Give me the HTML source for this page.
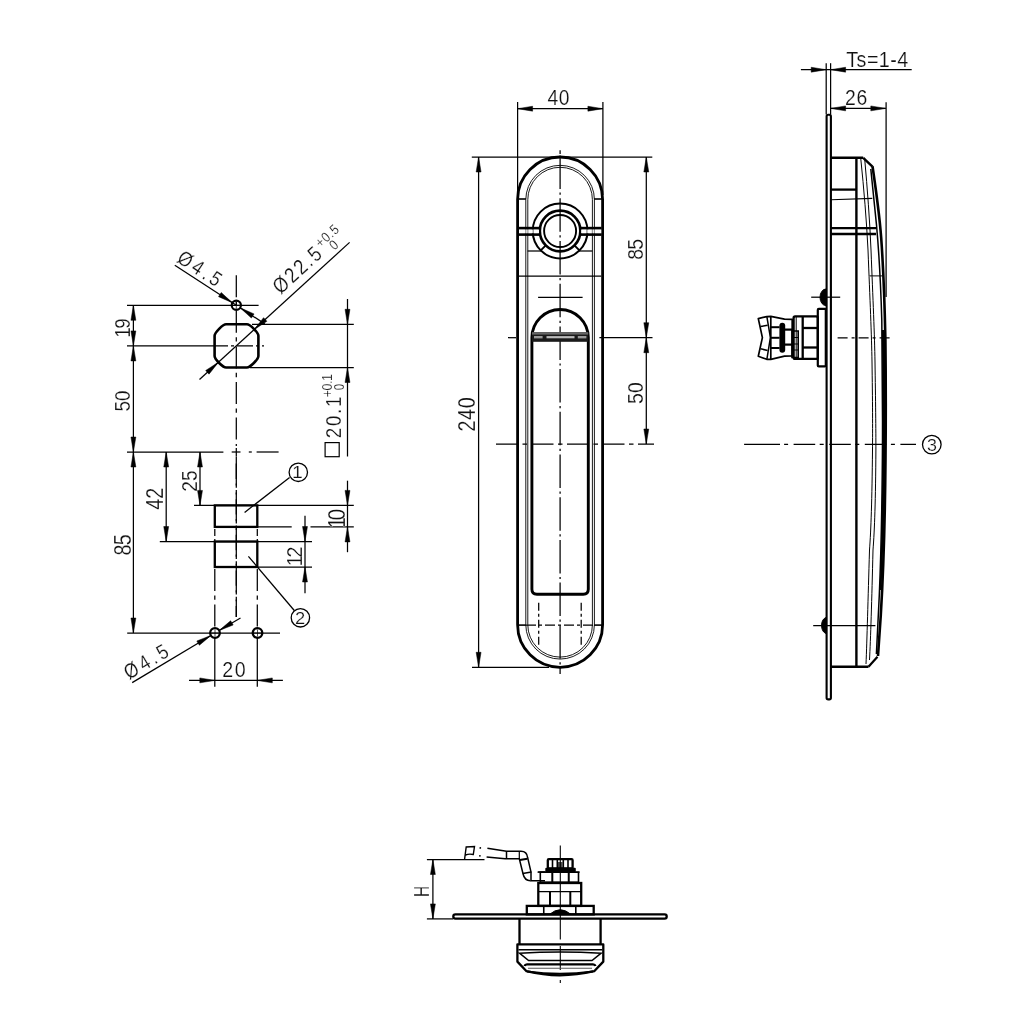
<!DOCTYPE html>
<html><head><meta charset="utf-8"><style>
html,body{margin:0;padding:0;background:#fff;width:1024px;height:1024px;overflow:hidden}
svg{display:block;will-change:transform}
text{font-family:"Liberation Sans",sans-serif;fill:#111}
</style></head><body>
<svg width="1024" height="1024" viewBox="0 0 1024 1024" stroke-linecap="butt">
<rect width="1024" height="1024" fill="#fff"/>
<line x1="236.3" y1="275.2" x2="236.3" y2="446" stroke="#000" stroke-width="1.25" stroke-dasharray="22 4.4 4.4 4.8"/>
<line x1="236.3" y1="457" x2="236.3" y2="617" stroke="#000" stroke-width="1.25" stroke-dasharray="22 4.4 4.4 4.8"/>
<line x1="127" y1="305.3" x2="258.6" y2="305.3" stroke="#000" stroke-width="1.25"/>
<line x1="127" y1="345.9" x2="212" y2="345.9" stroke="#000" stroke-width="1.25"/>
<line x1="212" y1="345.9" x2="264" y2="345.9" stroke="#000" stroke-width="1.25" stroke-dasharray="16 3 3 3"/>
<path d="M226.1 324.3H246.89999999999998C250.11999999999998 324.3 258.4 332.58 258.4 335.8V356.0C258.4 359.22 250.11999999999998 367.5 246.89999999999998 367.5H226.1C222.88 367.5 214.6 359.22 214.6 356.0V335.8C214.6 332.58 222.88 324.3 226.1 324.3Z" stroke="#000" stroke-width="2.6" fill="none" />
<circle cx="236.3" cy="305.3" r="4.6" stroke="#000" stroke-width="2.2" fill="none"/>
<line x1="232.8" y1="305.3" x2="239.8" y2="305.3" stroke="#000" stroke-width="0.7"/>
<line x1="236.3" y1="301.8" x2="236.3" y2="308.8" stroke="#000" stroke-width="0.7"/>
<line x1="133.4" y1="305.3" x2="133.4" y2="452" stroke="#000" stroke-width="1.25"/>
<path d="M133.4 305.3L135.85 320.3L130.95 320.3Z" fill="#000" stroke="#000" stroke-width="0.5"/>
<path d="M133.4 345.9L130.95 330.9L135.85 330.9Z" fill="#000" stroke="#000" stroke-width="0.5"/>
<path d="M133.4 345.9L135.85 360.9L130.95 360.9Z" fill="#000" stroke="#000" stroke-width="0.5"/>
<path d="M133.4 452L130.95 437L135.85 437Z" fill="#000" stroke="#000" stroke-width="0.5"/>
<text transform="translate(129.7 336.3) rotate(-90) translate(-1.5 0) scale(0.86 1)" font-size="21.86" letter-spacing="-1.65" stroke="#fff" stroke-width="0.2">19</text>
<text transform="translate(129.7 410.7) rotate(-90) translate(-0.75 0) scale(0.86 1)" font-size="21.86" letter-spacing="-0.07" stroke="#fff" stroke-width="0.2">50</text>
<line x1="252" y1="324.3" x2="353.8" y2="324.3" stroke="#000" stroke-width="1.25"/>
<line x1="250" y1="367.5" x2="353.8" y2="367.5" stroke="#000" stroke-width="1.25"/>
<line x1="347.5" y1="299" x2="347.5" y2="456.5" stroke="#000" stroke-width="1.25"/>
<path d="M347.5 324.3L345.05 309.3L349.95 309.3Z" fill="#000" stroke="#000" stroke-width="0.5"/>
<path d="M347.5 367.5L349.95 382.5L345.05 382.5Z" fill="#000" stroke="#000" stroke-width="0.5"/>
<rect x="325.1" y="442.6" width="14.1" height="14.1" fill="none" stroke="#000" stroke-width="1.2"/>
<text transform="translate(340.9 437.3) rotate(-90) translate(-0.93 0) scale(0.86 1)" font-size="21.71" letter-spacing="2.04" stroke="#fff" stroke-width="0.2">20.1</text>
<text transform="translate(331.6 396.7) rotate(-90) translate(-0.62 0) scale(0.86 1)" font-size="14.43" letter-spacing="-0.51" stroke="#fff" stroke-width="0.2">+0.1</text>
<text transform="translate(343.5 389.7) rotate(-90) translate(-0.46 0) scale(0.83 1)" font-size="13.86" letter-spacing="0" stroke="#fff" stroke-width="0.2">0</text>
<line x1="174.8" y1="265.2" x2="236.3" y2="305.3" stroke="#000" stroke-width="1.25"/>
<path d="M232.45 302.79L218.54 296.65L221.22 292.54Z" fill="#000" stroke="#000" stroke-width="0.5"/>
<path d="M240.15 307.81L254.06 313.95L251.38 318.06Z" fill="#000" stroke="#000" stroke-width="0.5"/>
<line x1="240.15" y1="307.81" x2="264.78" y2="323.87" stroke="#000" stroke-width="1.25"/>
<text transform="translate(174.8 265.2) rotate(33.11) translate(-1.31 -3.8) scale(0.86 1)" font-size="20.71" letter-spacing="3.63" stroke="#fff" stroke-width="0.2">Ø4.5</text>
<line x1="199.5" y1="379.5" x2="349.6" y2="242.4" stroke="#000" stroke-width="1.25"/>
<path d="M218.43 362.22L209.01 374.15L205.7 370.53Z" fill="#000" stroke="#000" stroke-width="0.5"/>
<path d="M254.17 329.58L263.59 317.65L266.9 321.27Z" fill="#000" stroke="#000" stroke-width="0.5"/>
<text transform="translate(275.8 309.6) rotate(-42.41) translate(13.26 -7.6) scale(0.86 1)" font-size="21.43" letter-spacing="2.28" stroke="#fff" stroke-width="0.2">Ø22.5</text>
<text transform="translate(275.8 309.6) rotate(-42.41) translate(74.4 -15) scale(0.86 1)" font-size="14" letter-spacing="0.92" stroke="#fff" stroke-width="0.2">+0.5</text>
<text transform="translate(275.8 309.6) rotate(-42.41) translate(83.02 -4) scale(0.86 1)" font-size="14" letter-spacing="0" stroke="#fff" stroke-width="0.2">0</text>
<line x1="127" y1="452" x2="223.4" y2="452" stroke="#000" stroke-width="1.25"/>
<line x1="231.7" y1="452" x2="240.5" y2="452" stroke="#000" stroke-width="1.25"/>
<line x1="248.8" y1="452" x2="251.8" y2="452" stroke="#000" stroke-width="1.25"/>
<line x1="256.6" y1="452" x2="278.6" y2="452" stroke="#000" stroke-width="1.25"/>
<line x1="236.3" y1="447.9" x2="236.3" y2="456.7" stroke="#000" stroke-width="1.25"/>
<line x1="133.4" y1="452" x2="133.4" y2="633" stroke="#000" stroke-width="1.25"/>
<path d="M133.4 452L135.85 467L130.95 467Z" fill="#000" stroke="#000" stroke-width="0.5"/>
<path d="M133.4 633L130.95 618L135.85 618Z" fill="#000" stroke="#000" stroke-width="0.5"/>
<text transform="translate(130.5 554.7) rotate(-90) translate(-0.79 0) scale(0.86 1)" font-size="23" letter-spacing="-1.02" stroke="#fff" stroke-width="0.2">85</text>
<line x1="159.8" y1="541.5" x2="312" y2="541.5" stroke="#000" stroke-width="1.25"/>
<line x1="166.2" y1="452" x2="166.2" y2="541.5" stroke="#000" stroke-width="1.25"/>
<path d="M166.2 452L168.65 467L163.75 467Z" fill="#000" stroke="#000" stroke-width="0.5"/>
<path d="M166.2 541.5L163.75 526.5L168.65 526.5Z" fill="#000" stroke="#000" stroke-width="0.5"/>
<text transform="translate(163.2 509.3) rotate(-90) translate(-0.4 0) scale(0.86 1)" font-size="23" letter-spacing="-0.08" stroke="#fff" stroke-width="0.2">42</text>
<line x1="194" y1="505.4" x2="353.8" y2="505.4" stroke="#000" stroke-width="1.25"/>
<line x1="200" y1="452" x2="200" y2="505.4" stroke="#000" stroke-width="1.25"/>
<path d="M200 452L202.45 467L197.55 467Z" fill="#000" stroke="#000" stroke-width="0.5"/>
<path d="M200 505.4L197.55 490.4L202.45 490.4Z" fill="#000" stroke="#000" stroke-width="0.5"/>
<text transform="translate(196.9 490.8) rotate(-90) translate(-0.96 0) scale(0.86 1)" font-size="22.29" letter-spacing="0.06" stroke="#fff" stroke-width="0.2">25</text>
<rect x="214.8" y="505.4" width="42.5" height="21.5" fill="none" stroke="#000" stroke-width="2.3"/>
<rect x="214.8" y="541.5" width="42.5" height="25.5" fill="none" stroke="#000" stroke-width="2.3"/>
<line x1="257" y1="526.9" x2="291.7" y2="526.9" stroke="#000" stroke-width="1.25"/>
<line x1="310.5" y1="526.9" x2="353.8" y2="526.9" stroke="#000" stroke-width="1.25"/>
<line x1="257" y1="567" x2="312" y2="567" stroke="#000" stroke-width="1.25"/>
<line x1="347.5" y1="480.7" x2="347.5" y2="552.2" stroke="#000" stroke-width="1.25"/>
<path d="M347.5 505.4L345.05 490.4L349.95 490.4Z" fill="#000" stroke="#000" stroke-width="0.5"/>
<path d="M347.5 526.9L349.95 541.9L345.05 541.9Z" fill="#000" stroke="#000" stroke-width="0.5"/>
<text transform="translate(344.5 527) rotate(-90) translate(-1.62 0) scale(0.86 1)" font-size="23.57" letter-spacing="-3.34" stroke="#fff" stroke-width="0.2">10</text>
<line x1="305" y1="515.8" x2="305" y2="593.2" stroke="#000" stroke-width="1.25"/>
<path d="M305 541.5L302.55 526.5L307.45 526.5Z" fill="#000" stroke="#000" stroke-width="0.5"/>
<path d="M305 567L307.45 582L302.55 582Z" fill="#000" stroke="#000" stroke-width="0.5"/>
<text transform="translate(301.9 564.8) rotate(-90) translate(-1.57 0) scale(0.86 1)" font-size="22.86" letter-spacing="-2.52" stroke="#fff" stroke-width="0.2">12</text>
<line x1="214.8" y1="529" x2="214.8" y2="541.5" stroke="#000" stroke-width="1.25" stroke-dasharray="7 3 3 3"/>
<line x1="257.3" y1="529" x2="257.3" y2="541.5" stroke="#000" stroke-width="1.25" stroke-dasharray="7 3 3 3"/>
<line x1="214.8" y1="569" x2="214.8" y2="627" stroke="#000" stroke-width="1.25" stroke-dasharray="22 4.4 4.4 4.8"/>
<line x1="257.3" y1="569" x2="257.3" y2="627" stroke="#000" stroke-width="1.25" stroke-dasharray="22 4.4 4.4 4.8"/>
<line x1="236.3" y1="463.6" x2="236.3" y2="617" stroke="#000" stroke-width="1.25" stroke-dasharray="22 4.4 4.4 4.8"/>
<line x1="127.2" y1="633" x2="280" y2="633" stroke="#000" stroke-width="1.25"/>
<circle cx="215" cy="633" r="4.8" stroke="#000" stroke-width="2.3" fill="none"/>
<circle cx="257.5" cy="633" r="4.8" stroke="#000" stroke-width="2.3" fill="none"/>
<line x1="211.5" y1="633" x2="218.5" y2="633" stroke="#000" stroke-width="0.7"/>
<line x1="215" y1="629.5" x2="215" y2="636.5" stroke="#000" stroke-width="0.7"/>
<line x1="254" y1="633" x2="261" y2="633" stroke="#000" stroke-width="0.7"/>
<line x1="257.5" y1="629.5" x2="257.5" y2="636.5" stroke="#000" stroke-width="0.7"/>
<line x1="214.8" y1="638" x2="214.8" y2="686.7" stroke="#000" stroke-width="1.25"/>
<line x1="257.3" y1="638" x2="257.3" y2="686.7" stroke="#000" stroke-width="1.25"/>
<line x1="189" y1="680.4" x2="282.9" y2="680.4" stroke="#000" stroke-width="1.25"/>
<path d="M214.8 680.4L199.8 682.85L199.8 677.95Z" fill="#000" stroke="#000" stroke-width="0.5"/>
<path d="M257.3 680.4L272.3 677.95L272.3 682.85Z" fill="#000" stroke="#000" stroke-width="0.5"/>
<text transform="translate(223.3 677) rotate(0) translate(-0.98 0) scale(0.86 1)" font-size="22.86" letter-spacing="1.69" stroke="#fff" stroke-width="0.2">20</text>
<line x1="132.2" y1="682.6" x2="210.97" y2="635.42" stroke="#000" stroke-width="1.25"/>
<path d="M210.97 635.42L199.36 645.23L196.84 641.02Z" fill="#000" stroke="#000" stroke-width="0.5"/>
<path d="M219.03 630.58L230.64 620.77L233.16 624.98Z" fill="#000" stroke="#000" stroke-width="0.5"/>
<line x1="219.03" y1="630.58" x2="240.5" y2="618" stroke="#000" stroke-width="1.25"/>
<text transform="translate(132.2 682.6) rotate(-30.92) translate(-1.31 -3.8) scale(0.86 1)" font-size="20.71" letter-spacing="3.63" stroke="#fff" stroke-width="0.2">Ø4.5</text>
<circle cx="298.3" cy="472.3" r="9.2" stroke="#000" stroke-width="1.3" fill="none"/>
<text transform="translate(293.6 478) rotate(0) translate(-1.56 0) scale(1.17 1)" font-size="16.67" letter-spacing="0" stroke="#fff" stroke-width="0.2">1</text>
<line x1="289.6" y1="477.6" x2="244.6" y2="512.4" stroke="#000" stroke-width="1.25"/>
<circle cx="300.4" cy="617.8" r="9.2" stroke="#000" stroke-width="1.3" fill="none"/>
<text transform="translate(296 623.5) rotate(0) translate(-0.92 0) scale(1.12 1)" font-size="16.43" letter-spacing="0" stroke="#fff" stroke-width="0.2">2</text>
<line x1="294.3" y1="610.5" x2="248.4" y2="556.3" stroke="#000" stroke-width="1.25"/>
<line x1="517.6" y1="102" x2="517.6" y2="195" stroke="#000" stroke-width="1.25"/>
<line x1="602.9" y1="102" x2="602.9" y2="195" stroke="#000" stroke-width="1.25"/>
<line x1="517.6" y1="108.7" x2="602.9" y2="108.7" stroke="#000" stroke-width="1.25"/>
<path d="M517.6 108.7L532.6 106.25L532.6 111.15Z" fill="#000" stroke="#000" stroke-width="0.5"/>
<path d="M602.9 108.7L587.9 111.15L587.9 106.25Z" fill="#000" stroke="#000" stroke-width="0.5"/>
<text transform="translate(547.9 104.8) rotate(0) translate(-0.39 0) scale(0.86 1)" font-size="22.43" letter-spacing="0.64" stroke="#fff" stroke-width="0.2">40</text>
<line x1="471.8" y1="157" x2="652.3" y2="157" stroke="#000" stroke-width="1.25"/>
<line x1="472" y1="667.3" x2="549" y2="667.3" stroke="#000" stroke-width="1.25"/>
<line x1="478.6" y1="157" x2="478.6" y2="667.3" stroke="#000" stroke-width="1.25"/>
<path d="M478.6 157L481.05 172L476.15 172Z" fill="#000" stroke="#000" stroke-width="0.5"/>
<path d="M478.6 667.3L476.15 652.3L481.05 652.3Z" fill="#000" stroke="#000" stroke-width="0.5"/>
<text transform="translate(475 430.5) rotate(-90) translate(-0.99 0) scale(0.86 1)" font-size="23" letter-spacing="0.67" stroke="#fff" stroke-width="0.2">240</text>
<line x1="646.3" y1="157" x2="646.3" y2="444" stroke="#000" stroke-width="1.25"/>
<path d="M646.3 157L648.75 172L643.85 172Z" fill="#000" stroke="#000" stroke-width="0.5"/>
<path d="M646.3 337.7L643.85 322.7L648.75 322.7Z" fill="#000" stroke="#000" stroke-width="0.5"/>
<path d="M646.3 337.7L648.75 352.7L643.85 352.7Z" fill="#000" stroke="#000" stroke-width="0.5"/>
<path d="M646.3 444L643.85 429L648.75 429Z" fill="#000" stroke="#000" stroke-width="0.5"/>
<line x1="599.4" y1="337.7" x2="652.5" y2="337.7" stroke="#000" stroke-width="1.25"/>
<text transform="translate(642.8 259) rotate(-90) translate(-0.78 0) scale(0.86 1)" font-size="22.57" letter-spacing="-0.81" stroke="#fff" stroke-width="0.2">85</text>
<text transform="translate(642.8 403.1) rotate(-90) translate(-0.78 0) scale(0.86 1)" font-size="22.57" letter-spacing="0.24" stroke="#fff" stroke-width="0.2">50</text>
<line x1="496" y1="444.2" x2="654" y2="444.2" stroke="#000" stroke-width="1.25" stroke-dasharray="22 4.5 4.5 4.5"/>
<line x1="508" y1="337.7" x2="516" y2="337.7" stroke="#000" stroke-width="1.25"/>
<path d="M517.6 199.5A42.5 42.5 0 0 1 602.6 199.5V624.8A42.5 42.5 0 0 1 517.6 624.8Z" stroke="#000" stroke-width="2.8" fill="none" />
<path d="M525.8000000000001 199.6A34.3 34.3 0 0 1 594.4 199.6V624.8A34.3 34.3 0 0 1 525.8000000000001 624.8Z" stroke="#000" stroke-width="0.9" fill="none" />
<path d="M527.8000000000001 199.6A32.3 32.3 0 0 1 592.4 199.6V624.8A32.3 32.3 0 0 1 527.8000000000001 624.8Z" stroke="#000" stroke-width="0.9" fill="none" />
<line x1="518" y1="199" x2="526" y2="199" stroke="#000" stroke-width="1.6"/>
<line x1="594" y1="199" x2="602" y2="199" stroke="#000" stroke-width="1.6"/>
<line x1="518" y1="625.1" x2="526" y2="625.1" stroke="#000" stroke-width="1.6"/>
<line x1="594" y1="625.1" x2="602" y2="625.1" stroke="#000" stroke-width="1.6"/>
<line x1="526" y1="625.1" x2="594" y2="625.1" stroke="#000" stroke-width="1.25" stroke-dasharray="10 3 3 3"/>
<circle cx="560.1" cy="231" r="27.4" stroke="#000" stroke-width="2.0" fill="none"/>
<circle cx="560.1" cy="231" r="20.3" stroke="#000" stroke-width="2.7" fill="none"/>
<circle cx="560.1" cy="231" r="16" stroke="#000" stroke-width="1.9" fill="none"/>
<line x1="545.5" y1="245.6" x2="540.5" y2="250.6" stroke="#000" stroke-width="1.9"/>
<line x1="574.7" y1="245.6" x2="579.7" y2="250.6" stroke="#000" stroke-width="1.9"/>
<rect x="519" y="229.4" width="20" height="3.9" fill="#fff"/><rect x="581.2" y="229.4" width="20" height="3.9" fill="#fff"/>
<line x1="525.8" y1="229.4" x2="525.8" y2="233.3" stroke="#777" stroke-width="0.9"/>
<line x1="527.9" y1="229.4" x2="527.9" y2="233.3" stroke="#777" stroke-width="0.9"/>
<line x1="592.3" y1="229.4" x2="592.3" y2="233.3" stroke="#777" stroke-width="0.9"/>
<line x1="594.4" y1="229.4" x2="594.4" y2="233.3" stroke="#777" stroke-width="0.9"/>
<line x1="533.2" y1="229.4" x2="533.2" y2="233.3" stroke="#888" stroke-width="1.2"/>
<line x1="586.9" y1="229.4" x2="586.9" y2="233.3" stroke="#888" stroke-width="1.2"/>
<line x1="518.6" y1="228.1" x2="539.6" y2="228.1" stroke="#000" stroke-width="2.6"/>
<line x1="580.6" y1="228.1" x2="601.6" y2="228.1" stroke="#000" stroke-width="2.6"/>
<line x1="518.6" y1="234.6" x2="539.6" y2="234.6" stroke="#000" stroke-width="2.6"/>
<line x1="580.6" y1="234.6" x2="601.6" y2="234.6" stroke="#000" stroke-width="2.6"/>
<line x1="527.6" y1="251" x2="541.5" y2="251" stroke="#000" stroke-width="1.25"/>
<line x1="578.7" y1="251" x2="592.5" y2="251" stroke="#000" stroke-width="1.25"/>
<line x1="519" y1="276" x2="601.3" y2="276" stroke="#000" stroke-width="1.25"/>
<line x1="538.1" y1="297.3" x2="582.6" y2="297.3" stroke="#000" stroke-width="1.25"/>
<line x1="560.1" y1="150.2" x2="560.1" y2="154" stroke="#000" stroke-width="1.25"/>
<line x1="560.1" y1="155.6" x2="560.1" y2="674" stroke="#000" stroke-width="1.25" stroke-dasharray="33.5 3.5 2.2 3.5"/>
<path d="M531.9 337.6A28.2 28.2 0 0 1 588.3000000000001 337.6V589.2Q588.3000000000001 594.2 583.3000000000001 594.2H536.9Q531.9 594.2 531.9 589.2Z" stroke="#000" stroke-width="2.9" fill="none" />
<rect x="532" y="332.2" width="56.2" height="9.6" fill="#1a1a1a"/>
<rect x="532" y="332.2" width="56.2" height="2.4" fill="#666"/>
<rect x="534" y="336" width="8.6" height="2.4" fill="#999"/>
<rect x="577.8" y="336" width="8.6" height="2.4" fill="#999"/>
<rect x="546.5" y="336.1" width="28" height="2.2" fill="#bbb"/>
<line x1="538.7" y1="602.8" x2="538.7" y2="647.3" stroke="#000" stroke-width="1.25" stroke-dasharray="8 3 3 3"/>
<line x1="581.2" y1="602.8" x2="581.2" y2="647.3" stroke="#000" stroke-width="1.25" stroke-dasharray="8 3 3 3"/>
<line x1="800.9" y1="69.7" x2="911.7" y2="69.7" stroke="#000" stroke-width="1.25"/>
<line x1="826.2" y1="63.2" x2="826.2" y2="114.5" stroke="#000" stroke-width="1.25"/>
<line x1="830.6" y1="63.2" x2="830.6" y2="114.5" stroke="#000" stroke-width="1.25"/>
<path d="M826.2 69.7L811.2 72.15L811.2 67.25Z" fill="#000" stroke="#000" stroke-width="0.5"/>
<path d="M830.6 69.7L845.6 67.25L845.6 72.15Z" fill="#000" stroke="#000" stroke-width="0.5"/>
<text transform="translate(846.7 66.7) rotate(0) translate(-0.39 0) scale(0.86 1)" font-size="22.9" letter-spacing="0.52" stroke="#fff" stroke-width="0.2">Ts=1-4</text>
<line x1="830.6" y1="108.4" x2="885.8" y2="108.4" stroke="#000" stroke-width="1.25"/>
<path d="M830.6 108.4L845.6 105.95L845.6 110.85Z" fill="#000" stroke="#000" stroke-width="0.5"/>
<path d="M885.8 108.4L870.8 110.85L870.8 105.95Z" fill="#000" stroke="#000" stroke-width="0.5"/>
<line x1="886.1" y1="102.2" x2="886.1" y2="297" stroke="#000" stroke-width="1.25"/>
<text transform="translate(846 105) rotate(0) translate(-0.97 0) scale(0.86 1)" font-size="22.57" letter-spacing="0.93" stroke="#fff" stroke-width="0.2">26</text>
<rect x="826.6" y="114.8" width="4.3" height="584.6" rx="1.6" fill="none" stroke="#000" stroke-width="2.1"/>
<line x1="856.4" y1="157" x2="856.4" y2="667.5" stroke="#000" stroke-width="2.4"/>
<line x1="831" y1="157.8" x2="863.2" y2="157.8" stroke="#000" stroke-width="2.4"/>
<line x1="831" y1="666.7" x2="868.5" y2="666.7" stroke="#000" stroke-width="2.4"/>
<path d="M863.2 157.8L872.5 166.6" stroke="#000" stroke-width="2.4" fill="none" />
<path d="M868.5 666.7L877.5 656.8" stroke="#000" stroke-width="2.2" fill="none" />
<path d="M872.5 166.3C876 190 879.3 213 881.2 238C883 263 884.6 300 885.4 340C885.9 380 885.9 420 885.5 460C885 520 883.2 575 880.8 615L878 656" stroke="#000" stroke-width="2.6" fill="none" />
<path d="M870.8 169C872.6 185 874.6 205 876.5 225C878.8 250 880.6 280 881.8 320C882.4 360 882.6 400 882.5 440C882.2 500 881 555 879.3 595L876.4 654" stroke="#000" stroke-width="1.5" fill="none" />
<path d="M881.8 330C882.4 370 882.6 400 882.5 440C882.2 500 881.2 550 879.6 590L881.5 590C883.3 550 884.8 500 885.3 460C885.8 420 885.8 380 885.3 330Z" fill="#000"/>
<path d="M860.7 157.8C864 190 866.5 220 868 250C870 300 871.6 335 872 362C872.6 400 872.7 430 872.5 450C872 500 871 530 869.5 550C868 600 867 640 866 664" stroke="#000" stroke-width="1.0" fill="none" />
<path d="M864.6 157.8C867.5 190 869.7 220 871 250C873 300 874.6 335 875 362C875.6 400 875.9 430 875.9 450C875.6 500 874.6 530 873 550C871.8 600 870.6 640 869.5 660" stroke="#000" stroke-width="1.0" fill="none" />
<line x1="831" y1="189.6" x2="856.4" y2="189.6" stroke="#000" stroke-width="2.3"/>
<line x1="831" y1="199.8" x2="872.3" y2="198.4" stroke="#000" stroke-width="1.1"/>
<line x1="831" y1="228.1" x2="876" y2="228.1" stroke="#000" stroke-width="2.3"/>
<line x1="831" y1="234" x2="876" y2="234" stroke="#000" stroke-width="2.3"/>
<line x1="869.5" y1="275.9" x2="882.2" y2="275.9" stroke="#000" stroke-width="1.0"/>
<line x1="811.2" y1="297.2" x2="840.2" y2="297.2" stroke="#000" stroke-width="1.25"/>
<path d="M826 289A6 8.3 0 0 0 826 305.6Z" stroke="#000" stroke-width="1" fill="#000" />
<line x1="813.2" y1="625.5" x2="875.4" y2="625.5" stroke="#000" stroke-width="1.25"/>
<path d="M826 617.5A6 8.3 0 0 0 826 633.5Z" stroke="#000" stroke-width="1" fill="#000" />
<rect x="817.8" y="308.9" width="8" height="57.5" fill="none" stroke="#000" stroke-width="2.2" rx="1"/>
<rect x="793.6" y="316.4" width="24.2" height="42.5" fill="none" stroke="#000" stroke-width="2.3" rx="1.5"/>
<line x1="802.7" y1="316.4" x2="802.7" y2="358.9" stroke="#000" stroke-width="2.3"/>
<line x1="796.2" y1="316.4" x2="796.2" y2="358.9" stroke="#000" stroke-width="1.0"/>
<line x1="802.7" y1="328" x2="817.8" y2="328" stroke="#000" stroke-width="2.3"/>
<line x1="802.7" y1="347.5" x2="817.8" y2="347.5" stroke="#000" stroke-width="2.3"/>
<path d="M792 331V357.5H798.2V331Z" stroke="#000" stroke-width="1.6" fill="none" />
<line x1="792" y1="337.5" x2="798" y2="337.5" stroke="#000" stroke-width="1.0"/>
<line x1="792" y1="344" x2="798" y2="344" stroke="#000" stroke-width="1.0"/>
<line x1="792" y1="350" x2="798" y2="350" stroke="#000" stroke-width="1.0"/>
<path d="M758.3 318.6L766.7 316.6L770.8 316.3L784.5 319.1L792.2 319.4V356L784.5 356.1L770.8 359.3L766.7 359.3L758.3 356.3L762.4 337.6Z" stroke="#000" stroke-width="1.7" fill="none" stroke-linejoin="round"/>
<path d="M766.9 316.8L770.4 337.6L766.9 359.1" stroke="#000" stroke-width="1.5" fill="none" />
<line x1="770.8" y1="316.3" x2="770.8" y2="359.3" stroke="#000" stroke-width="1.7"/>
<line x1="760.5" y1="326.6" x2="767.6" y2="325.2" stroke="#000" stroke-width="1.5"/>
<line x1="760.5" y1="348.8" x2="767.6" y2="350.4" stroke="#000" stroke-width="1.5"/>
<line x1="770.8" y1="327.2" x2="779.6" y2="327.2" stroke="#000" stroke-width="2.0"/>
<line x1="770.8" y1="337.8" x2="779.6" y2="337.8" stroke="#000" stroke-width="2.0"/>
<line x1="770.8" y1="348" x2="779.6" y2="348" stroke="#000" stroke-width="2.0"/>
<line x1="785" y1="329.6" x2="792.2" y2="329.6" stroke="#000" stroke-width="2.2"/>
<line x1="785" y1="344.6" x2="792.2" y2="344.6" stroke="#000" stroke-width="2.2"/>
<rect x="779.4" y="322.7" width="5.8" height="30" rx="2.9" fill="#000"/>
<line x1="837.6" y1="337.8" x2="892" y2="337.8" stroke="#000" stroke-width="1.25" stroke-dasharray="10 4 3 4"/>
<line x1="744.1" y1="444.4" x2="780" y2="444.4" stroke="#000" stroke-width="1.25"/>
<line x1="784.1" y1="444.4" x2="916" y2="444.4" stroke="#000" stroke-width="1.25" stroke-dasharray="4 5.5 21.6 4.5"/>
<circle cx="931.8" cy="444.6" r="9.3" stroke="#000" stroke-width="1.3" fill="none"/>
<text transform="translate(927.6 450.5) rotate(0) translate(-0.71 0) scale(1.09 1)" font-size="16.43" letter-spacing="0" stroke="#fff" stroke-width="0.2">3</text>
<rect x="453.3" y="914.4" width="213.4" height="4.3" rx="2.1" fill="none" stroke="#000" stroke-width="2.3"/>
<line x1="426.9" y1="859.5" x2="484.5" y2="859.5" stroke="#000" stroke-width="1.25"/>
<line x1="426.9" y1="918.9" x2="453" y2="918.9" stroke="#000" stroke-width="1.25"/>
<line x1="432.9" y1="859.5" x2="432.9" y2="918.9" stroke="#000" stroke-width="1.25"/>
<path d="M432.9 859.5L435.35 874.5L430.45 874.5Z" fill="#000" stroke="#000" stroke-width="0.5"/>
<path d="M432.9 918.9L430.45 903.9L435.35 903.9Z" fill="#000" stroke="#000" stroke-width="0.5"/>
<text transform="translate(429.2 895.7) rotate(-90) translate(-1.23 0) scale(0.7 1)" font-size="22.03" letter-spacing="0" stroke="#fff" stroke-width="0.2">H</text>
<line x1="560.3" y1="845.5" x2="560.3" y2="939.5" stroke="#000" stroke-width="1.1"/>
<line x1="560.3" y1="946" x2="560.3" y2="970" stroke="#000" stroke-width="1.1"/>
<line x1="560.3" y1="980" x2="560.3" y2="983" stroke="#000" stroke-width="1.1"/>
<rect x="526.8" y="905.9" width="66.9" height="8.5" fill="none" stroke="#000" stroke-width="2.3"/>
<line x1="543.75" y1="905.9" x2="543.75" y2="914.4" stroke="#000" stroke-width="1.6"/>
<line x1="575.8" y1="905.9" x2="575.8" y2="914.4" stroke="#000" stroke-width="1.6"/>
<path d="M549.5 914.4Q560.3 905 571 914.4Z" stroke="#000" stroke-width="1" fill="#000" />
<rect x="538.3" y="883" width="42.9" height="22.9" fill="none" stroke="#000" stroke-width="2.3"/>
<line x1="538.3" y1="891.7" x2="581.2" y2="891.7" stroke="#000" stroke-width="1.2"/>
<line x1="550" y1="891.7" x2="550" y2="905.9" stroke="#000" stroke-width="2.0"/>
<line x1="570.3" y1="891.7" x2="570.3" y2="905.9" stroke="#000" stroke-width="2.0"/>
<rect x="540.3" y="872.2" width="38.2" height="10" fill="none" stroke="#000" stroke-width="1.6"/>
<line x1="552.3" y1="872.2" x2="552.3" y2="882" stroke="#000" stroke-width="2.0"/>
<line x1="568.75" y1="872.2" x2="568.75" y2="882" stroke="#000" stroke-width="2.0"/>
<line x1="537.5" y1="872.2" x2="579.7" y2="872.2" stroke="#000" stroke-width="1.2"/>
<rect x="547.8" y="859.2" width="24.8" height="9.3" fill="none" stroke="#000" stroke-width="2.3" rx="1"/>
<rect x="545.3" y="867.8" width="30.5" height="4.2" fill="#000" rx="1"/>
<line x1="552.5" y1="859.5" x2="552.5" y2="868" stroke="#000" stroke-width="1.6"/>
<line x1="557.3" y1="859.5" x2="557.3" y2="868" stroke="#000" stroke-width="1.6"/>
<line x1="563.3" y1="859.5" x2="563.3" y2="868" stroke="#000" stroke-width="1.6"/>
<line x1="568" y1="859.5" x2="568" y2="868" stroke="#000" stroke-width="1.6"/>
<rect x="558" y="862" width="4.5" height="6" fill="#000" opacity="0.7"/>
<path d="M487.4 848.3L506.5 851.2H521Q527 851.2 527.6 857.5L531 872V880.7H545" stroke="#000" stroke-width="1.5" fill="none" />
<path d="M486.6 857L505.2 858.7H519.3L523.1 874Q524.5 880.7 530.5 880.7" stroke="#000" stroke-width="1.5" fill="none" />
<line x1="506.5" y1="851.2" x2="506.5" y2="858.9" stroke="#000" stroke-width="1.5"/>
<line x1="519.3" y1="851" x2="519.3" y2="859.1" stroke="#000" stroke-width="1.2"/>
<line x1="519.75" y1="860" x2="527.4" y2="858.8" stroke="#000" stroke-width="2.0"/>
<line x1="522.7" y1="873.6" x2="531.4" y2="872" stroke="#000" stroke-width="1.5"/>
<path d="M464.6 859.1L466.2 847L474.5 846.6L473.3 854.5Q469 853.5 465.5 855" stroke="#000" stroke-width="1.4" fill="none" />
<circle cx="480.3" cy="847.9" r="0.9" fill="#000"/><circle cx="479.9" cy="855.8" r="0.9" fill="#000"/>
<line x1="538" y1="872" x2="545" y2="872" stroke="#000" stroke-width="1.3"/>
<line x1="519.5" y1="918.6" x2="519.5" y2="944" stroke="#000" stroke-width="2.3"/>
<line x1="600.6" y1="918.6" x2="600.6" y2="944" stroke="#000" stroke-width="2.3"/>
<path d="M517.4 944.4H603.3V961.6L594.2 971.2Q577 975.3 559.8 975.3Q543 975.3 526.5 971.2L517.4 961.6Z" stroke="#000" stroke-width="2.3" fill="none" stroke-linejoin="round"/>
<line x1="518.5" y1="949.7" x2="602.2" y2="949.7" stroke="#000" stroke-width="1.5"/>
<path d="M519.5 953.2Q560.3 951 601.2 953.2L592 960.5H528.6Z" stroke="#000" stroke-width="1.5" fill="none" />
<path d="M524.5 966Q525 964.3 527 964.3H593Q595 964.3 595.5 966" stroke="#000" stroke-width="2.3" fill="none" />
<line x1="528" y1="968.2" x2="592" y2="968.2" stroke="#555" stroke-width="1.1"/>
<path d="M527 971.5Q560 976 593 971.5" stroke="#000" stroke-width="2.0" fill="none" />
</svg></body></html>
